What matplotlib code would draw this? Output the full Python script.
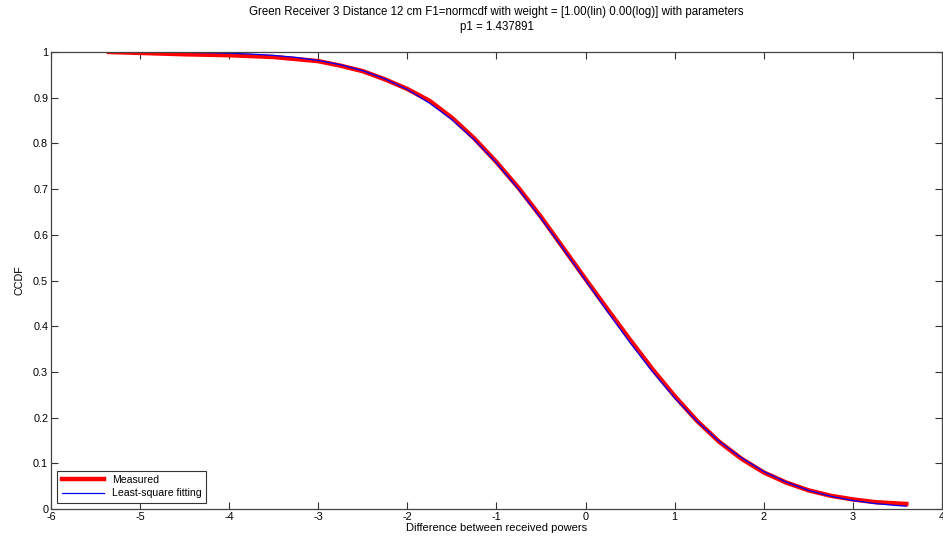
import matplotlib.pyplot as plt

# Measured CCDF
meas_x = [-5.35, -5.0, -4.5, -4.0, -3.5, -3.0, -2.75, -2.5, -2.25, -2.0, -1.75,
          -1.5, -1.25, -1.0, -0.75, -0.5, -0.25, 0.0, 0.25, 0.5, 0.75, 1.0,
          1.25, 1.5, 1.75, 2.0, 2.25, 2.5, 2.75, 3.0, 3.25, 3.6]
meas_y = [1.0, 0.998, 0.995, 0.993, 0.989, 0.980, 0.970, 0.958, 0.940, 0.919, 0.893,
          0.856, 0.811, 0.759, 0.702, 0.639, 0.571, 0.503, 0.436, 0.370, 0.306, 0.247,
          0.193, 0.147, 0.110, 0.080, 0.058, 0.041, 0.029, 0.021, 0.015, 0.011]

# Least-square fitting (blue curve)
fit_x = [-5.35, -5.0, -4.75, -4.5, -4.25, -4.0, -3.75, -3.5, -3.25, -3.0, -2.75,
         -2.5, -2.25, -2.0, -1.75, -1.5, -1.25, -1.0, -0.75, -0.5, -0.25, 0.0,
         0.25, 0.5, 0.75, 1.0, 1.25, 1.5, 1.75, 2.0, 2.25, 2.5, 2.75, 3.0,
         3.25, 3.5, 3.6]
fit_y = [0.9999, 0.9997, 0.9995, 0.9991, 0.9984, 0.9973, 0.9954, 0.9925, 0.9881, 0.9815, 0.9721,
         0.959, 0.941, 0.918, 0.888, 0.852, 0.808, 0.757, 0.699, 0.636, 0.569, 0.5,
         0.431, 0.364, 0.301, 0.243, 0.192, 0.148, 0.112, 0.082, 0.059, 0.041, 0.028, 0.0185,
         0.012, 0.0075, 0.0062]

xticks = [-6, -5, -4, -3, -2, -1, 0, 1, 2, 3, 4]
yticks = [0, 0.1, 0.2, 0.3, 0.4, 0.5, 0.6, 0.7, 0.8, 0.9, 1]

plt.rcParams['font.family'] = ['Liberation Sans', 'DejaVu Sans']

fig = plt.figure(figsize=(9.43, 5.40), dpi=100)
ax = fig.add_axes([0.0541, 0.0574, 0.9448, 0.8463])

ax.plot(meas_x, meas_y, color='#ff0000', lw=3.2, label='Measured')
ax.plot(fit_x, fit_y, color='#0000ff', lw=0.9, label='Least-square fitting')

ax.set_xlim(-6, 4)
ax.set_ylim(0, 1)
ax.set_xticks(xticks)
ax.set_xticklabels([str(t) for t in xticks])
ax.set_yticks(yticks)
ax.set_yticklabels(['0', '0.1', '0.2', '0.3', '0.4', '0.5', '0.6', '0.7', '0.8', '0.9', '1'])
ax.tick_params(direction='in', top=True, right=True, length=5, width=0.8,
               labelsize=7.8, pad=2, color='#333333')
for s in ax.spines.values():
    s.set_color('#444444')
    s.set_linewidth(0.9)

ax.set_xlabel('Difference between received powers', fontsize=8, labelpad=1)
ax.set_ylabel('CCDF', fontsize=7.8, labelpad=6)
ax.set_title('Green Receiver 3 Distance 12 cm F1=normcdf with weight = [1.00(lin) 0.00(log)] with parameters\np1 = 1.437891',
             fontsize=8.3, pad=16, linespacing=1.3)

leg = ax.legend(loc='lower left', fontsize=7.6, fancybox=False, framealpha=1,
                borderaxespad=0.6, handlelength=4.0, borderpad=0.4, labelspacing=0.35)
leg.get_frame().set_edgecolor('#333333')
leg.get_frame().set_linewidth(0.8)

fig.savefig('out.png', dpi=100)
